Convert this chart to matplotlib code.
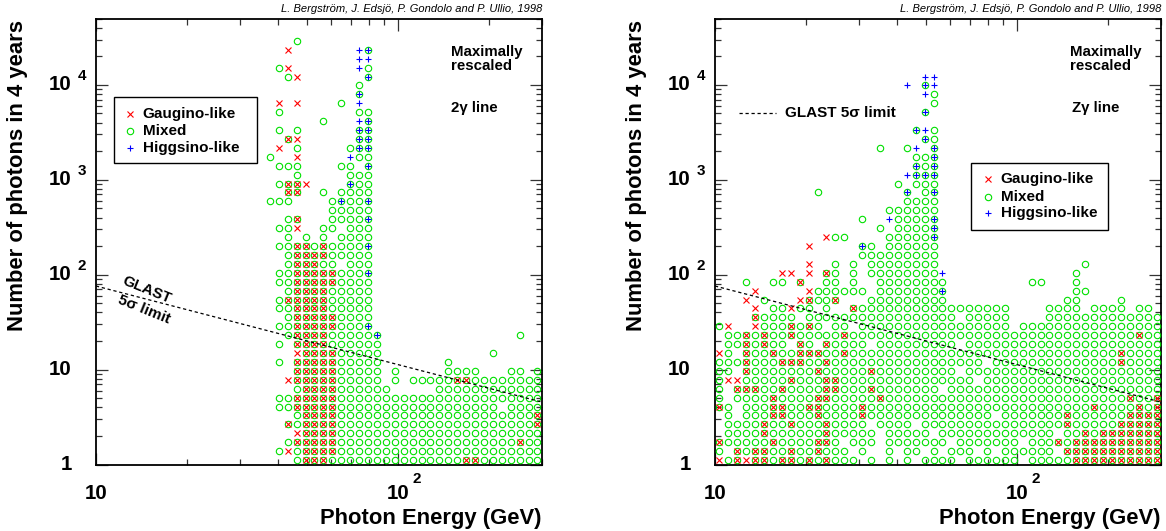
import numpy as np
import matplotlib.pyplot as plt
from matplotlib.patches import Rectangle
from matplotlib.ticker import NullFormatter

plt.rcParams['font.family'] = ['Liberation Sans', 'DejaVu Sans']

# Scan grid: counts binned on a 50 x 50 log grid
E_MIN, E_MAX = 10.0, 300.0
N_MIN, N_MAX = 1.0, 5e4
N_BINS = 50

# Occupied cells, one string per count bin (bottom row first), one char per energy bin.
# o = mixed, x = gaugino-like, + = higgsino-like, X = mixed+gaugino, P = mixed+higgsino
two_gamma_first_col = 19
two_gamma_rows = [
    "...oXXXoooooooooooooooXXooooooo",
    ".oxoXXXXooooooooooooooooooooooo",
    "..oXXXXXooooooooooooooooooooXoo",
    "...xXXXXooooooooooooooooooooooo",
    "..XoXXXXooooooooooooooooooooooX",
    "...oXXXXooooooooooooooooooooooX",
    ".ooXXXXXoooooooooooooooooo.oooo",
    ".ooXXXXXooooooooooooooooooooooo",
    "...oXXXXoooooo.....oooooooooooo",
    "..xXXXXXooooo.o.oooooXXoooooooo",
    "...XXXXXooooo.o.....oooo...oo.o",
    ".o.XXXXXooooo.......o",
    "...xXXXXooooo............o",
    ".o.XXXXoooooo",
    "..oXXXXoooooP...............o",
    ".ooXXXXXoooP",
    "..oXXXXXoooo",
    ".ooXXXXooooo",
    ".oXXXXXooooo",
    "..oXXXXooooo",
    ".ooXXXXXoooo",
    ".ooXXXXXoooP",
    "..oXXXoo.ooo",
    "..oXXXXooooo",
    ".ooXXoXooooP",
    "..o.o.o.oooo",
    ".oox..oo.ooo",
    "..oX...ooooP",
    ".......ooooo",
    "ooo....oPooP",
    "..XX..o.oooo",
    ".oXXx....Poo",
    "...o.....ooo",
    ".ooo....oo.P",
    "o..x.....+oo",
    ".x.o.....oPP",
    "..Xx......PP",
    ".o.o......PP",
    "......o...+P",
    ".o........oo",
    ".x.x....o.+",
    "..........P",
    "..........o",
    "..ox.......P",
    ".ox.......+o",
    "..........++",
    "..x.......+P",
    "...o",
]

# same layout, '|' every ten energy bins
z_gamma_first_col = 0
z_gamma_rows = [
    "xoXxXXoXXo|XoXooo.o.o|.o.oooo.oo|oooo.ooooo|XXXXXXXXXX",
    "o.XoXXooXo|oXooo.o..o|.oo.o.ooo.|o.oooooo.X|XXXXXXXXXX",
    "XoooooXooo|oXXo.ooo.o|oooooo.ooo|oooo.oooXo|XXXXXXXXXX",
    ".ooooXoooo|ooXooooo.o|oooo.ooooo|oooooooo.o|oXoXXXXXXX",
    ".ooooXooXo|ooXoooo.oo|oo.ooooooo|oooooooooX|oooooXXXXX",
    ".o.oooXXoo|oXooooXooo|oooooooooo|o.oooooooX|ooooooXXXX",
    "Xo.oooXXoo|XXooooXooo|oooooooooo|oooooooooo|ooXooooXoX",
    "o.ooooXooo|oXXoooooXo|oooooooooo|oooooooooo|ooooooXooX",
    "o.XXXooXoo|ooXXoooXoo|ooooo.oooo|oooooooooo|oooooooooo",
    "oxxoooooXo|ooXXoooooo|ooooooooo.|oooooooooo|oooooooooo",
    "oo.Xoooooo|oXoooooXoo|ooooooo.oo|oooooooooo|oooooooooo",
    "oooXoooXXX|ooXooooooo|oooooooooo|.ooooooooo|oooooXoooo",
    "xo.XooXooX|XXooXooooo|oooooooooo|oooooooooo|oooooXoooo",
    ".ooXoXoo.X|o.Xoooo.oo|ooooooo.oo|oooooooooo|oooooooooo",
    ".ooXoXooXo|ooooXooooo|oooooooooo|oooooooooo|oooooooXoo",
    "ox..xoooXo|Xo.oo.oooo|oooooooooo|ooo.oooooo|oooooooooo",
    "....Xoooo.|oooooooooo|ooooooo.oo|ooo....ooo|oooooooooo",
    "....x.ooxo|o.o..Xoooo|oooooooooo|ooo....ooo|o.oooo.oo.",
    "...x.o...x|XooX...ooo|oooooo....|.........o|o....o....",
    "....x.....|xoooooo.oo|oooooP....|..........|oo........",
    "...o..oo.X|..oo.o..oo|oooooo....|.....oo...|o.........",
    ".......xx.|x.Xo.o.ooo|ooooo+....|..........|o.........",
    "..........|x..o.o.ooo|ooooo.....|..........|.o........",
    "..........|......oooo|ooooo",
    "..........|x.....Po.o|ooooo",
    "..........|..xoo....o|ooooP",
    "..........|........o.|ooooP",
    "..........|......o..+|ooooP",
    "..........|.........o|ooooo",
    "..........|..........|.oooo",
    "..........|.o........|.P.oP",
    "..........|..........|o.ooo",
    "..........|..........|.+PPP",
    "..........|..........|..PoP",
    "..........|..........|..ooP",
    "..........|........o.|.o+.P",
    "..........|..........|...Po",
    "..........|..........|..P+o",
    "",
    "..........|..........|...P",
    "..........|..........|....o",
    "..........|..........|...+o",
    "..........|..........|.+.P+",
    "..........|..........|...++",
]

# GLAST 5 sigma sensitivity (straight in log-log)
glast_energy = [10.0, 300.0]
glast_counts = [76.0, 4.55]

e_edges = np.logspace(np.log10(E_MIN), np.log10(E_MAX), N_BINS + 1)
n_edges = np.logspace(np.log10(N_MIN), np.log10(N_MAX), N_BINS + 1)
e_centres = np.sqrt(e_edges[:-1] * e_edges[1:])
n_centres = np.sqrt(n_edges[:-1] * n_edges[1:])

GREEN = '#00e000'
RED = '#ff0000'
BLUE = '#0000ff'
BOLD = dict(fontweight='bold', color='black')
DASH = (0, (2.6, 2.2))


def decode(rows, first_col):
    pts = {'mixed': ([], []), 'gaugino': ([], []), 'higgsino': ([], [])}
    for j, row in enumerate(rows):
        for k, ch in enumerate(row.replace('|', '')):
            c = first_col + k
            if ch == '.' or c >= N_BINS:
                continue
            e, n = e_centres[c], n_centres[j]
            if ch in 'oXP':
                pts['mixed'][0].append(e); pts['mixed'][1].append(n)
            if ch in 'xX':
                pts['gaugino'][0].append(e); pts['gaugino'][1].append(n)
            if ch in '+P':
                pts['higgsino'][0].append(e); pts['higgsino'][1].append(n)
    return pts


def draw_points(ax, pts):
    ax.plot(*pts['mixed'], ls='none', marker='o', ms=4.6, mfc='none', mec=GREEN, mew=0.8, zorder=3)
    ax.plot(*pts['gaugino'], ls='none', marker='x', ms=4.2, mec=RED, mew=0.8, zorder=4)
    ax.plot(*pts['higgsino'], ls='none', marker='+', ms=5.0, mec=BLUE, mew=0.8, zorder=5)


def style_axes(ax):
    ax.set_xscale('log')
    ax.set_yscale('log')
    ax.set_xlim(E_MIN, E_MAX)
    ax.set_ylim(N_MIN, N_MAX)
    ax.tick_params(which='both', direction='in', top=True, right=True, width=0.9, color='#333333')
    ax.tick_params(which='major', length=8.5)
    ax.tick_params(which='minor', length=4.2)
    for axis in (ax.xaxis, ax.yaxis):
        axis.set_major_formatter(NullFormatter())
        axis.set_minor_formatter(NullFormatter())
    for sp in ax.spines.values():
        sp.set_linewidth(1.3)

    # ROOT-style tick labels: "10" with a detached exponent
    ytf = ax.get_yaxis_transform()
    for val in [1, 10, 100, 1000, 10000]:
        p = int(round(np.log10(val)))
        ax.text(-0.054, val, '1' if p == 0 else '10', transform=ytf,
                ha='right', va='center', fontsize=14.8, **BOLD)
        if p >= 2:
            ax.annotate(str(p), xy=(-0.054, val), xycoords=ytf, xytext=(4.0, 6.5),
                        textcoords='offset points', ha='left', va='center', fontsize=11, **BOLD)
    xtf = ax.get_xaxis_transform()
    for val in [10, 100]:
        ax.text(val, -0.064, '10', transform=xtf, ha='center', va='center', fontsize=14.8, **BOLD)
        if val == 100:
            ax.annotate('2', xy=(val, -0.064), xycoords=xtf, xytext=(10.5, 10.0),
                        textcoords='offset points', ha='left', va='center', fontsize=11, **BOLD)

    ax.text(1.0, -0.12, 'Photon Energy (GeV)', transform=ax.transAxes,
            ha='right', va='center', fontsize=15.8, **BOLD)
    ax.text(-0.177, 0.997, 'Number of photons in 4 years', transform=ax.transAxes,
            rotation=90, ha='center', va='top', fontsize=15.8, **BOLD)
    ax.text(1.0, 1.021, 'L. Bergström, J. Edsjö, P. Gondolo and P. Ullio, 1998',
            transform=ax.transAxes, ha='right', va='center', fontsize=8.0, style='italic')
    ax.text(0.797, 0.94, 'Maximally\nrescaled', transform=ax.transAxes,
            ha='left', va='top', fontsize=10.8, linespacing=1.0, **BOLD)


def draw_legend(ax, x0, y0, x1, y1, mx, tx, rows_y):
    ax.add_patch(Rectangle((x0, y0), x1 - x0, y1 - y0, transform=ax.transAxes,
                           facecolor='white', edgecolor='black', lw=1.0, zorder=10))
    entries = [('x', RED, 'Gaugino-like', 4.2), ('o', GREEN, 'Mixed', 4.6),
               ('+', BLUE, 'Higgsino-like', 5.0)]
    for (m, col, lab, ms), y in zip(entries, rows_y):
        ax.plot([mx], [y], transform=ax.transAxes, ls='none', marker=m, ms=ms,
                mfc='none', mec=col, mew=0.8, zorder=11, clip_on=False)
        ax.text(tx, y, lab, transform=ax.transAxes, ha='left', va='center',
                fontsize=11, zorder=11, **BOLD)


fig = plt.figure(figsize=(11.66, 5.31), dpi=100)
ax1 = fig.add_axes([0.0823, 0.1252, 0.3825, 0.8399])
ax2 = fig.add_axes([0.6132, 0.1252, 0.3825, 0.8399])

# 2 gamma line
style_axes(ax1)
draw_points(ax1, decode(two_gamma_rows, two_gamma_first_col))
ax1.plot(glast_energy, glast_counts, color='black', lw=0.9, ls=DASH, zorder=6)
ax1.text(0.797, 0.80, '2γ line', transform=ax1.transAxes, ha='left', va='center',
         fontsize=10.8, **BOLD)
ax1.text(0.1137, 0.391, 'GLAST', transform=ax1.transAxes, rotation=-22,
         ha='center', va='center', fontsize=11, **BOLD)
ax1.text(0.1069, 0.348, '5σ limit', transform=ax1.transAxes, rotation=-22,
         ha='center', va='center', fontsize=11, **BOLD)
draw_legend(ax1, 0.0415, 0.675, 0.36, 0.825, 0.076, 0.105, [0.786, 0.748, 0.710])

# Z gamma line
style_axes(ax2)
draw_points(ax2, decode(z_gamma_rows, z_gamma_first_col))
ax2.plot(glast_energy, glast_counts, color='black', lw=0.9, ls=DASH, zorder=6)
ax2.text(0.80, 0.80, 'Zγ line', transform=ax2.transAxes, ha='left', va='center',
         fontsize=10.8, **BOLD)
ax2.plot([0.054, 0.137], [0.788, 0.788], transform=ax2.transAxes, color='black',
         lw=0.9, ls=DASH)
ax2.text(0.158, 0.788, 'GLAST 5σ limit', transform=ax2.transAxes, ha='left',
         va='center', fontsize=11, **BOLD)
draw_legend(ax2, 0.574, 0.526, 0.881, 0.675, 0.612, 0.6405, [0.6395, 0.600, 0.5632])

fig.savefig('out.png', dpi=100)
